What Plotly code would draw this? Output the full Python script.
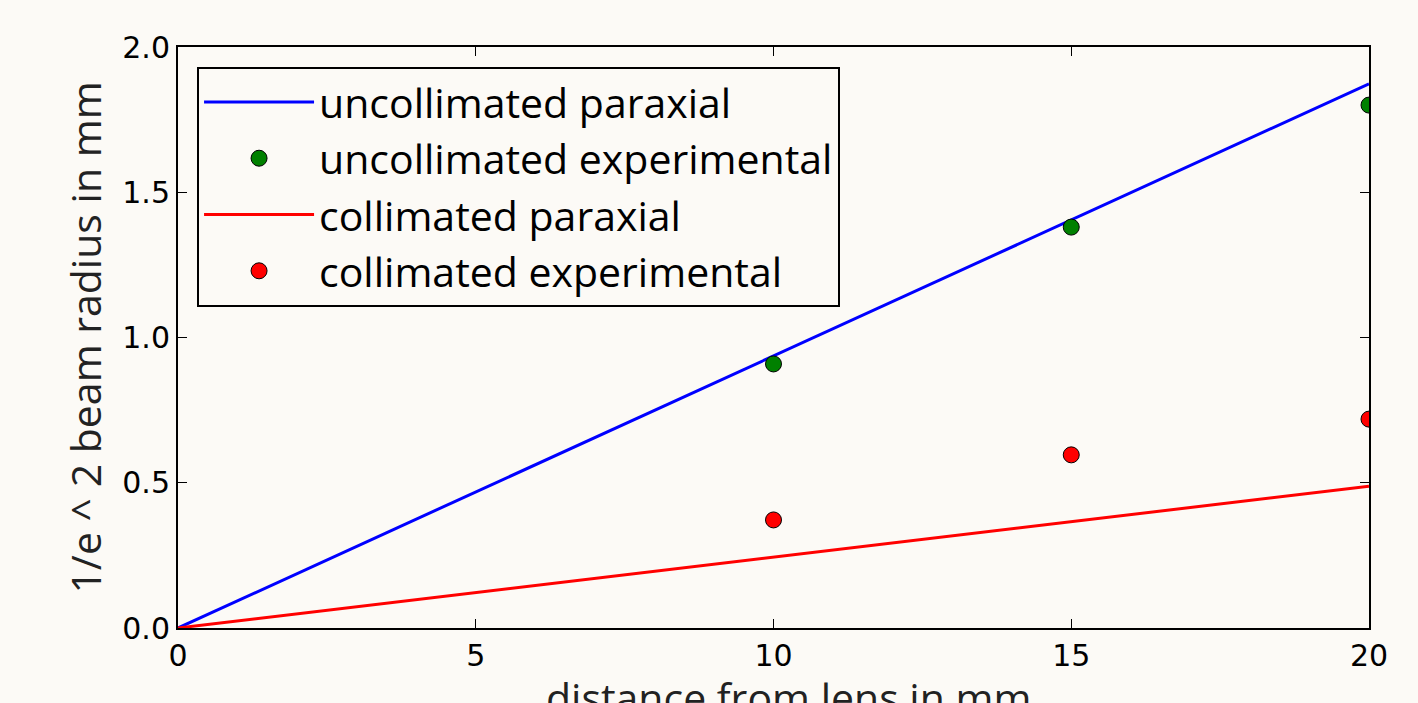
import plotly.graph_objects as go

# Data
x_line = [0, 20]
uncoll_paraxial = [0, 1.873]
coll_paraxial = [0, 0.488]
x_exp = [10, 15, 20]
uncoll_exp = [0.909, 1.380, 1.800]
coll_exp = [0.372, 0.596, 0.719]

x_ticks = [0, 5, 10, 15, 20]
y_ticks = [0.0, 0.5, 1.0, 1.5, 2.0]
y_ticklabels = ["0.0", "0.5", "1.0", "1.5", "2.0"]
x_title = "distance from lens in mm"
y_title = "1/e ^ 2 beam radius in mm"

fig = go.Figure()
fig.add_trace(go.Scatter(x=x_line, y=uncoll_paraxial, mode="lines",
                         line=dict(color="#0000ff", width=3),
                         name="uncollimated paraxial", cliponaxis=False))
fig.add_trace(go.Scatter(x=x_exp, y=uncoll_exp, mode="markers",
                         marker=dict(color="#008000", size=16, line=dict(color="black", width=1)),
                         name="uncollimated experimental", cliponaxis=True))
fig.add_trace(go.Scatter(x=x_line, y=coll_paraxial, mode="lines",
                         line=dict(color="#ff0000", width=3),
                         name="collimated paraxial", cliponaxis=False))
fig.add_trace(go.Scatter(x=x_exp, y=coll_exp, mode="markers",
                         marker=dict(color="#ff0000", size=16, line=dict(color="black", width=1)),
                         name="collimated experimental", cliponaxis=True))

bg = "#fcfaf6"
fig.update_layout(
    width=1418, height=703,
    margin=dict(l=178, r=49, t=47, b=75),
    paper_bgcolor=bg, plot_bgcolor=bg,
    font=dict(family="DejaVu Sans", size=30, color="black"),
    showlegend=True,
    legend=dict(x=0.016, y=0.966, xanchor="left", yanchor="top",
                bgcolor=bg, bordercolor="black", borderwidth=2,
                font=dict(family="Open Sans", size=41, color="black"),
                itemwidth=110, tracegroupgap=0),
    annotations=[dict(text=x_title, xref="paper", yref="paper", x=0.513, y=-0.118,
                      xanchor="center", yanchor="middle", showarrow=False,
                      font=dict(family="Open Sans", size=41, color="#222"))],
)
fig.update_xaxes(range=[0, 20], tickvals=x_ticks, ticktext=[str(v) for v in x_ticks],
                 ticks="inside", ticklen=9, tickwidth=1, tickcolor="black",
                 showline=True, linecolor="black", linewidth=2, mirror="allticks",
                 showgrid=False, zeroline=False, automargin=False,
                 tickfont=dict(family="DejaVu Sans", size=30))
fig.update_yaxes(range=[0, 2.0], tickvals=y_ticks, ticktext=y_ticklabels,
                 ticks="inside", ticklen=9, tickwidth=1, tickcolor="black",
                 showline=True, linecolor="black", linewidth=2, mirror="allticks",
                 showgrid=False, zeroline=False, automargin=False,
                 tickfont=dict(family="DejaVu Sans", size=30),
                 title=dict(text=y_title, standoff=8,
                            font=dict(family="Open Sans", size=41, color="#222")))

fig.write_html("out.html", config={"displayModeBar": False},
               post_script="document.body.style.margin='0';document.body.style.background='%s';" % bg)
